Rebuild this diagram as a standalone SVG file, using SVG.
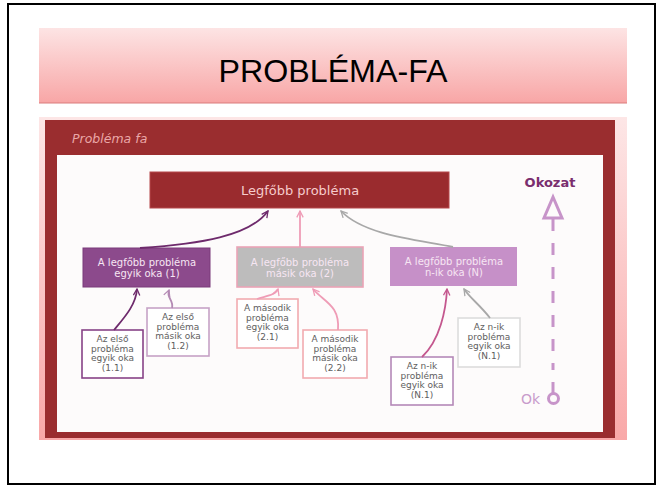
<svg xmlns="http://www.w3.org/2000/svg" width="663" height="488" viewBox="0 0 663 488">
<defs>
<linearGradient id="titleGrad" x1="0" y1="0" x2="0" y2="1">
<stop offset="0" stop-color="#fde4e4"/>
<stop offset="1" stop-color="#f8a6a6"/>
</linearGradient>
<linearGradient id="frameGrad" x1="0" y1="0" x2="0" y2="1">
<stop offset="0" stop-color="#fde6e6"/>
<stop offset="1" stop-color="#f9a8a8"/>
</linearGradient>
<marker id="arrP" viewBox="0 0 10 10" refX="9" refY="5" markerWidth="8" markerHeight="8" orient="auto" markerUnits="userSpaceOnUse"><path d="M1,1 L9,5 L1,9" fill="none" stroke="#6e2a6c" stroke-width="1.6"/></marker>
<marker id="arrL" viewBox="0 0 10 10" refX="9" refY="5" markerWidth="8" markerHeight="8" orient="auto" markerUnits="userSpaceOnUse"><path d="M1,1 L9,5 L1,9" fill="none" stroke="#b48ab4" stroke-width="1.6"/></marker>
<marker id="arrK" viewBox="0 0 10 10" refX="9" refY="5" markerWidth="8" markerHeight="8" orient="auto" markerUnits="userSpaceOnUse"><path d="M1,1 L9,5 L1,9" fill="none" stroke="#ef9cb6" stroke-width="1.6"/></marker>
<marker id="arrM" viewBox="0 0 10 10" refX="9" refY="5" markerWidth="8" markerHeight="8" orient="auto" markerUnits="userSpaceOnUse"><path d="M1,1 L9,5 L1,9" fill="none" stroke="#c4578e" stroke-width="1.6"/></marker>
<marker id="arrG" viewBox="0 0 10 10" refX="9" refY="5" markerWidth="8" markerHeight="8" orient="auto" markerUnits="userSpaceOnUse"><path d="M1,1 L9,5 L1,9" fill="none" stroke="#a8a8a8" stroke-width="1.6"/></marker>
</defs>
<style>
.ui{font-family:"DejaVu Sans","Liberation Sans",sans-serif}
.leaf rect{fill:#ffffff;stroke-width:1.6}
.leaf text{font-size:9px;fill:#5e5e5e;text-anchor:middle}
.cause text{font-size:10px;fill:#f7e6f3;text-anchor:middle}
.conn path{fill:none;stroke-width:1.8}
</style>
<rect x="0" y="0" width="663" height="488" fill="#ffffff"/>
<rect x="8" y="4" width="647" height="480" fill="none" stroke="#000000" stroke-width="2"/>
<g id="title">
<rect x="39" y="28" width="588" height="75" fill="url(#titleGrad)"/>
<line x1="39" y1="103" x2="627" y2="103" stroke="#d97c7c" stroke-width="1.2"/>
<text x="333" y="82" font-family="'Liberation Sans',Arial,sans-serif" font-size="32" text-anchor="middle" textLength="229" lengthAdjust="spacingAndGlyphs" fill="#000000">PROBLÉMA-FA</text>
</g>
<g id="frame">
<rect x="39" y="117" width="588" height="323" fill="url(#frameGrad)"/>
<rect x="45" y="120" width="570" height="318" fill="#9a2d2f"/>
<rect x="57" y="155" width="546" height="277" fill="#fdfbfb"/>
<text class="ui" x="72" y="143" font-size="12.5" font-style="italic" fill="#eaa7a7">Probléma fa</text>
</g>
<g id="top">
<rect x="150" y="172" width="299" height="36" fill="#9a2b2e" stroke="#b5484b" stroke-width="1"/>
<text class="ui" x="300" y="195" font-size="13" fill="#f6cccc" text-anchor="middle">Legfőbb probléma</text>
</g>
<g id="cause1" class="cause ui">
<rect x="83" y="248" width="127" height="39" fill="#8c4a8c" stroke="#7a3a7a" stroke-width="1"/>
<text x="147" y="266">A legfőbb probléma</text>
<text x="147" y="277">egyik oka (1)</text>
</g>
<g id="cause2" class="cause ui">
<rect x="237" y="247" width="126" height="40" fill="#bdbcbc" stroke="#eaa3b6" stroke-width="1.6"/>
<text x="300" y="266">A legfőbb probléma</text>
<text x="300" y="277">másik oka (2)</text>
</g>
<g id="causeN" class="cause ui">
<rect x="390" y="247" width="127" height="39" fill="#c690c8"/>
<text x="454" y="265">A legfőbb probléma</text>
<text x="454" y="276">n-ik oka (N)</text>
</g>
<g id="leaf11" class="leaf ui">
<rect x="82" y="330" width="61" height="48" stroke="#874387"/>
<text x="112.5" y="342">Az első</text>
<text x="112.5" y="351.5">probléma</text>
<text x="112.5" y="361">egyik oka</text>
<text x="112.5" y="370.5">(1.1)</text>
</g>
<g id="leaf12" class="leaf ui">
<rect x="147" y="308" width="62" height="48" stroke="#c6a2c6"/>
<text x="178" y="320">Az első</text>
<text x="178" y="329.5">probléma</text>
<text x="178" y="339">másik oka</text>
<text x="178" y="348.5">(1.2)</text>
</g>
<g id="leaf21" class="leaf ui">
<rect x="237" y="299" width="61" height="49" stroke="#f2abb0"/>
<text x="267.5" y="311">A második</text>
<text x="267.5" y="320.5">probléma</text>
<text x="267.5" y="330">egyik oka</text>
<text x="267.5" y="339.5">(2.1)</text>
</g>
<g id="leaf22" class="leaf ui">
<rect x="303" y="330" width="64" height="48" stroke="#f2abb0"/>
<text x="335" y="342">A második</text>
<text x="335" y="351.5">probléma</text>
<text x="335" y="361">másik oka</text>
<text x="335" y="370.5">(2.2)</text>
</g>
<g id="leafN1a" class="leaf ui">
<rect x="391" y="357" width="62" height="48" stroke="#b589b8"/>
<text x="422" y="369">Az n-ik</text>
<text x="422" y="378.5">probléma</text>
<text x="422" y="388">egyik oka</text>
<text x="422" y="397.5">(N.1)</text>
</g>
<g id="leafN1b" class="leaf ui">
<rect x="458" y="318" width="62" height="49" stroke="#dcdcdc"/>
<text x="489" y="330">Az n-ik</text>
<text x="489" y="339.5">probléma</text>
<text x="489" y="349">egyik oka</text>
<text x="489" y="358.5">(N.1)</text>
</g>
<g id="scale">
<text class="ui" x="550" y="187" font-size="13" font-weight="bold" fill="#7a2e6e" text-anchor="middle">Okozat</text>
<polygon points="553,197 544,218 562,218" fill="none" stroke="#c794c9" stroke-width="3" stroke-linejoin="miter"/>
<line x1="553" y1="219" x2="553" y2="370" stroke="#c794c9" stroke-width="3" stroke-dasharray="12,12"/>
<line x1="553" y1="382" x2="553" y2="393" stroke="#c794c9" stroke-width="3"/>
<circle cx="553.5" cy="398.5" r="5" fill="none" stroke="#c794c9" stroke-width="3"/>
<text class="ui" x="521" y="404" font-size="14" fill="#c89ccb">Ok</text>
</g>
<g id="connectors" class="conn">
<path d="M140,248 C 200,244 250,236 268,211" stroke="#6e2a6c" marker-end="url(#arrP)"/>
<path d="M300,247 L300,211" stroke="#ef9cb6" marker-end="url(#arrK)"/>
<path d="M453,247 C 420,240 365,236 341,211" stroke="#a8a8a8" marker-end="url(#arrG)"/>
<path d="M114,330 C 124,318 136,305 137,289" stroke="#6e2a6c" marker-end="url(#arrP)"/>
<path d="M172,308 C 174,300 166,298 169,290" stroke="#b48ab4" marker-end="url(#arrL)"/>
<path d="M257,299 C 266,296 276,295 278,289" stroke="#ef9cb6" marker-end="url(#arrK)"/>
<path d="M338,330 C 340,305 324,302 313,289" stroke="#ef9cb6" marker-end="url(#arrK)"/>
<path d="M422,357 C 440,340 446,310 447,289" stroke="#c4578e" marker-end="url(#arrM)"/>
<path d="M490,318 C 480,305 470,298 464,289" stroke="#a8a8a8" marker-end="url(#arrG)"/>
</g>
</svg>
